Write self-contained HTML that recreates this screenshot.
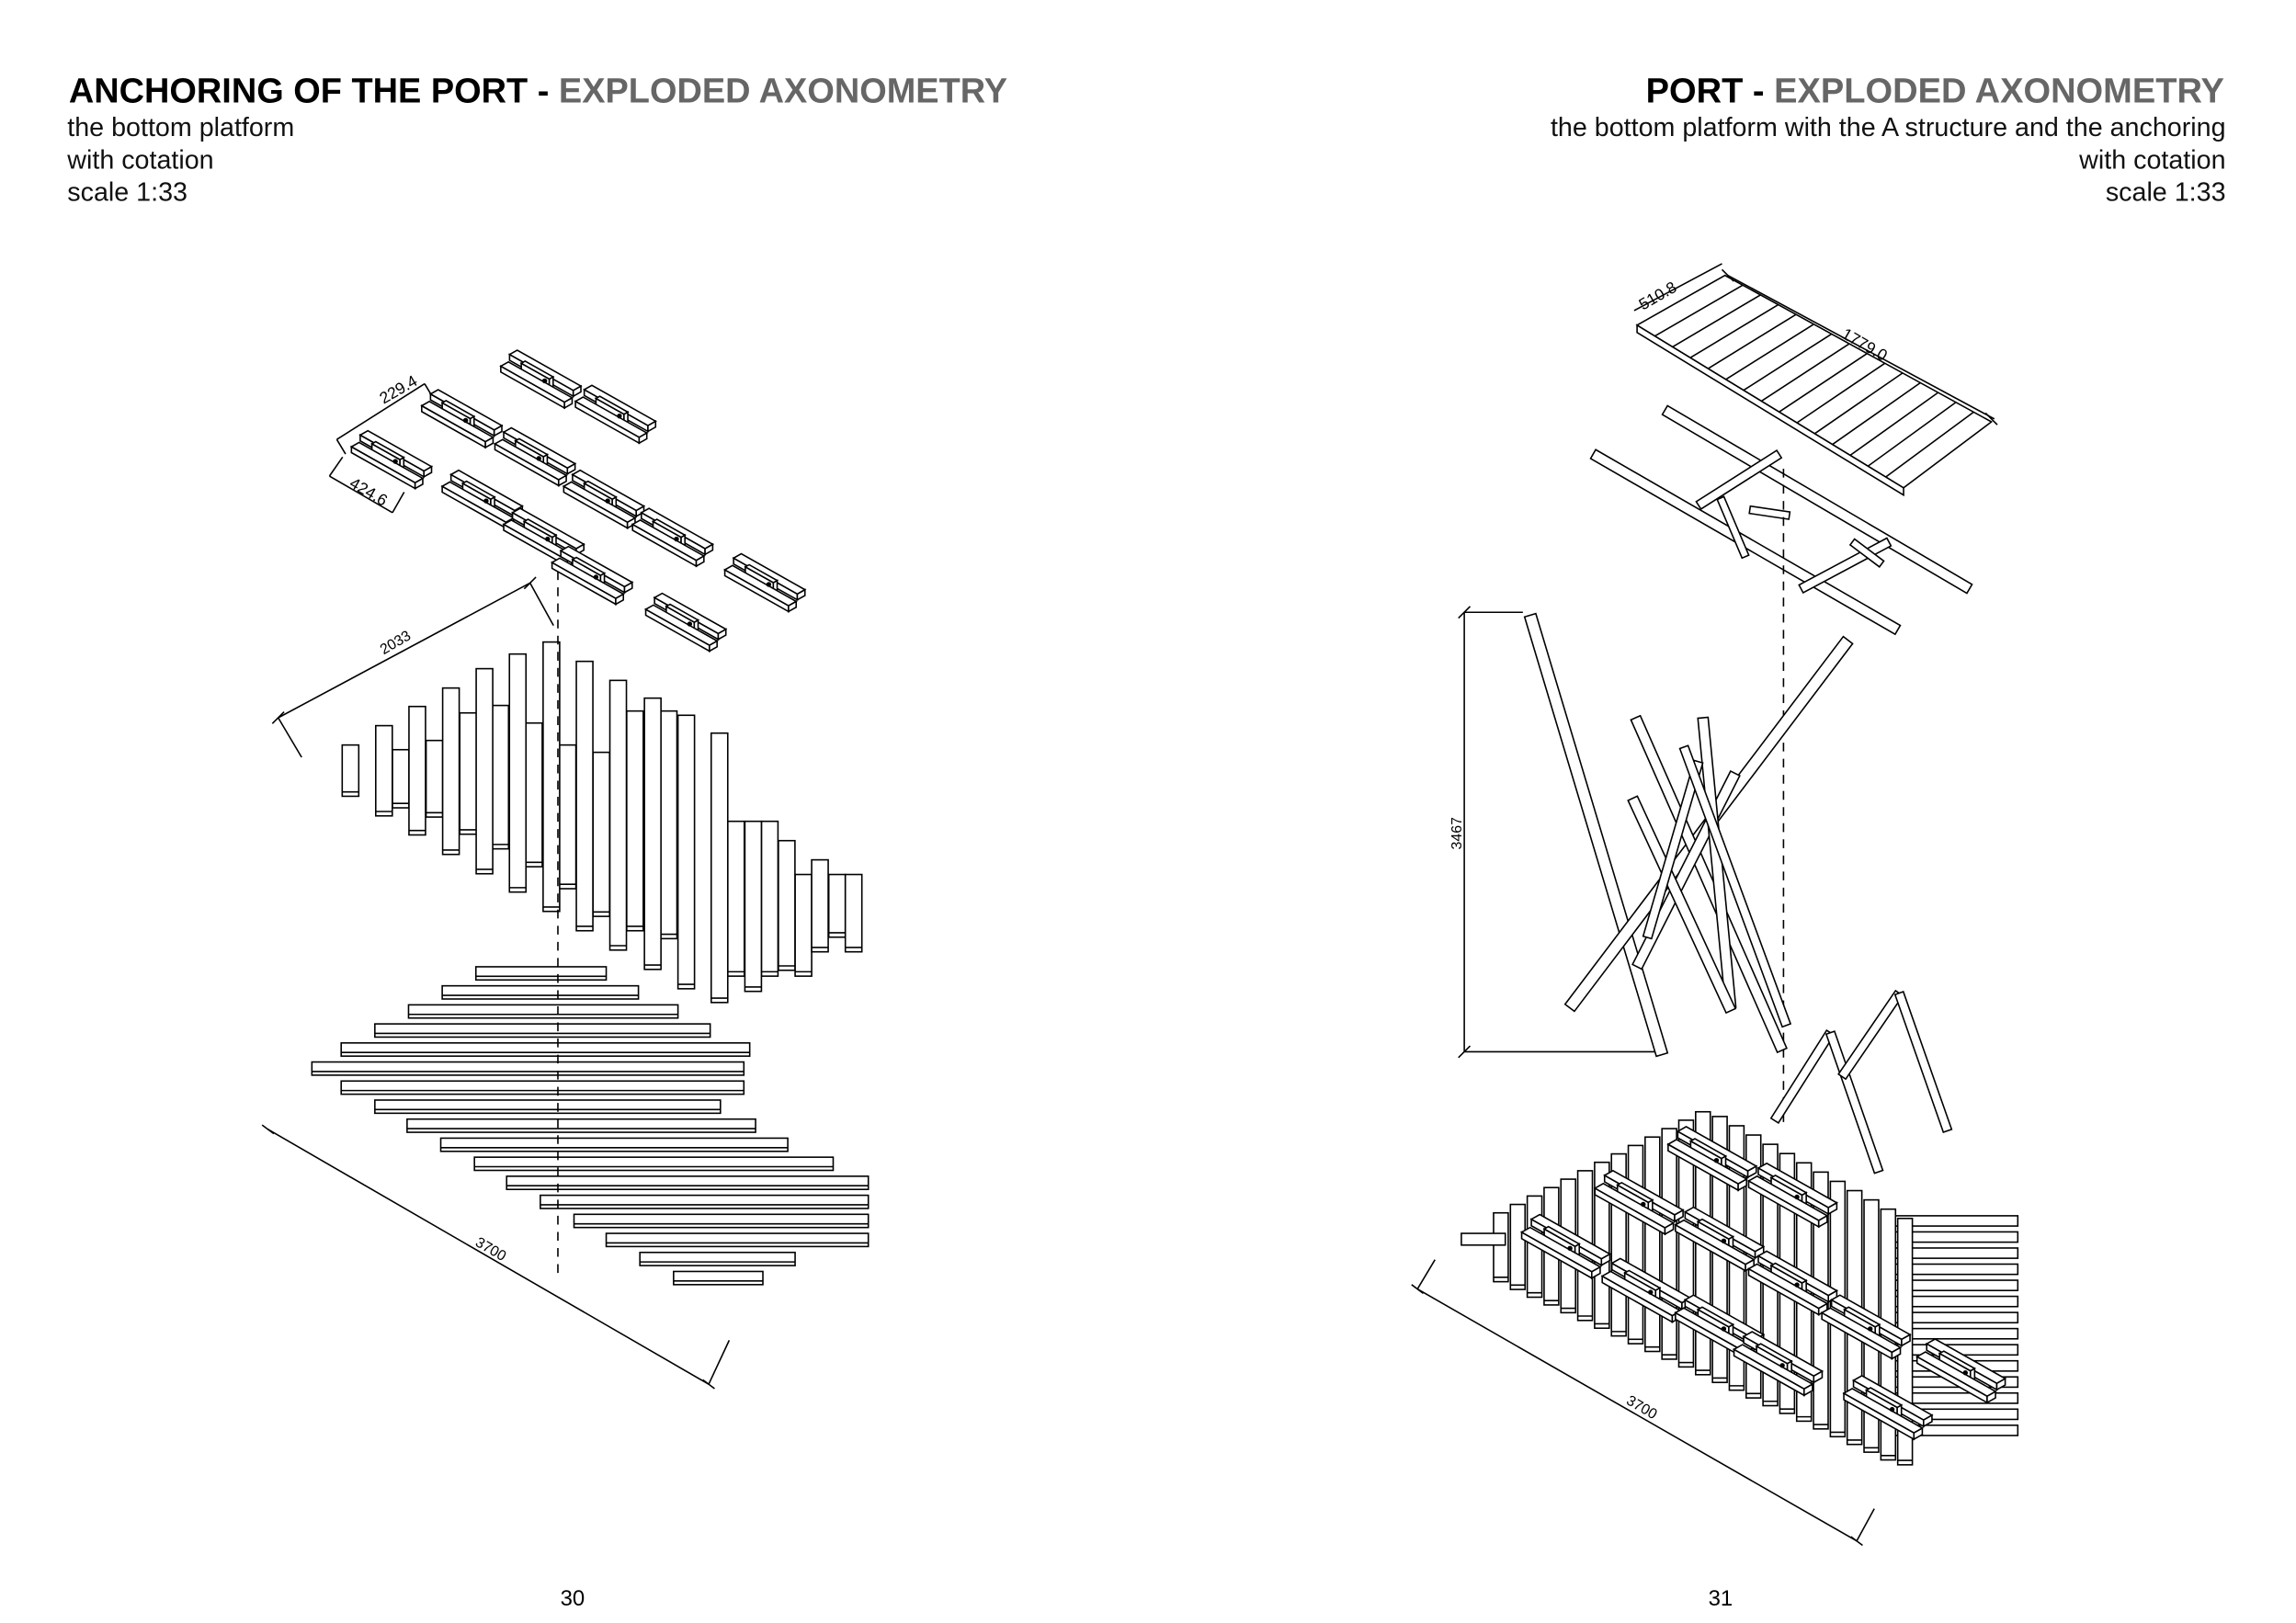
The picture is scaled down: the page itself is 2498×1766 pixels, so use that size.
<!DOCTYPE html>
<html><head><meta charset="utf-8"><style>
html,body{margin:0;padding:0;background:#fff;}
svg{display:block;}
text{font-family:"Liberation Sans",Arial,sans-serif;}
</style></head><body>
<svg id="s" width="2498" height="1766" viewBox="0 0 1568 1108" preserveAspectRatio="none" xmlns="http://www.w3.org/2000/svg">
<rect width="1568" height="1108" fill="#fff"/>
<text x="47" y="70" font-size="24" font-weight="bold" textLength="641" lengthAdjust="spacingAndGlyphs"><tspan fill="#000">ANCHORING OF THE PORT - </tspan><tspan fill="#666">EXPLODED AXONOMETRY</tspan></text>
<text x="46" y="93" font-size="18" fill="#111">the bottom platform</text>
<text x="46" y="115" font-size="18" fill="#111">with cotation</text>
<text x="46" y="137" font-size="18" fill="#111">scale 1:33</text>
<text x="1519" y="70" font-size="24" font-weight="bold" text-anchor="end" textLength="395" lengthAdjust="spacingAndGlyphs"><tspan fill="#000">PORT - </tspan><tspan fill="#666">EXPLODED AXONOMETRY</tspan></text>
<text x="1520" y="93" font-size="18" fill="#111" text-anchor="end">the bottom platform with the A structure and the anchoring</text>
<text x="1520" y="115" font-size="18" fill="#111" text-anchor="end">with cotation</text>
<text x="1520" y="137" font-size="18" fill="#111" text-anchor="end">scale 1:33</text>
<text x="391" y="1096" font-size="15" text-anchor="middle">30</text>
<text x="1175" y="1096" font-size="15" text-anchor="middle">31</text>
<g font-family="Liberation Mono,monospace" font-size="11" fill="#000">
<text transform="translate(262,276) rotate(-30)">229.4</text>
<text transform="translate(238,332) rotate(30)">424.6</text>
<text transform="translate(262,447) rotate(-30)" font-family="Liberation Sans,sans-serif" font-size="10">2033</text>
<text transform="translate(324,850) rotate(30)" font-family="Liberation Sans,sans-serif" font-size="10">3700</text>
<text transform="translate(1122,212) rotate(-30)">510.8</text>
<text transform="translate(1257,230) rotate(30)">1779.0</text>
<text transform="translate(998,580) rotate(-90)" font-family="Liberation Sans,sans-serif" font-size="10">3467</text>
<text transform="translate(1110,958) rotate(30)" font-family="Liberation Sans,sans-serif" font-size="10">3700</text>
</g>
<g id="g" fill="#fff" stroke="#000" stroke-width="1"></g>
</svg>
<script>
(function(){
var g=document.getElementById('g'),NS='http://www.w3.org/2000/svg';
function el(t,a){var e=document.createElementNS(NS,t);for(var k in a)e.setAttribute(k,a[k]);g.appendChild(e);return e;}
function R(x,y,w,h){el('rect',{x:x,y:y,width:w,height:h});}
function L(x1,y1,x2,y2,d){var a={x1:x1,y1:y1,x2:x2,y2:y2,fill:'none'};if(d)a['stroke-dasharray']=d;el('line',a);}
function P(pts){el('polygon',{points:pts.map(function(p){return p[0]+','+p[1]}).join(' ')});}
function bar(x1,y1,x2,y2,w){var dx=x2-x1,dy=y2-y1,l=Math.hypot(dx,dy),nx=-dy/l*w/2,ny=dx/l*w/2;P([[x1+nx,y1+ny],[x2+nx,y2+ny],[x2-nx,y2-ny],[x1-nx,y1-ny]]);}
var u=[0.87,0.49],w=[0.87,-0.49];
function box(x,y,Ln,W,H){var p0=[x,y],p1=[x+Ln*u[0],y+Ln*u[1]],p2=[p1[0]+W*w[0],p1[1]+W*w[1]],p3=[x+W*w[0],y+W*w[1]];
P([p0,p1,[p1[0],p1[1]+H],[p0[0],p0[1]+H]]);P([p1,p2,[p2[0],p2[1]+H],[p1[0],p1[1]+H]]);P([p0,p1,p2,p3]);}
function bench(cx,cy,s){s=s||1;var x=cx-28*s,y=cy-12*s;box(x+6*s,y-4*s,50*s,6*s,4*s);box(x+14*s,y+2*s,22*s,3*s,9*s);box(x,y+4*s,50*s,6*s,4*s);el('circle',{cx:x+30*s,cy:y+14*s,r:1.2,fill:'#000'});}
var back=[[268,511.8,551.5],[291,505.5,557.8],[314,486.7,569.5],[336,481.6,579.5],[359,493.6,591.7],[382,508.6,606.7],[405,513.6,625.6],[428,485.4,635.4],[451,485.4,640.8],[497,560.7,666.4],[520,560.7,666.4],[543,597,666.4],[566,597,639.8]];
back.forEach(function(b){R(b[0],b[1],11.3,b[2]-b[1]);L(b[0],b[2]-3,b[0]+11.3,b[2]-3);});
var front=[[233.7,508.6,543.6],[256.6,495.4,557],[279.3,482.3,570],[302.3,469.7,583.3],[325.2,456.5,596.5],[347.9,446.5,609],[370.9,438.3,622.2],[393.6,451.5,635.4],[416.5,464.5,648.6],[440.1,476.6,661.8],[463,488.3,675],[485.7,500.5,684.4],[508.7,560.7,676.8],[531.6,573.9,662.4],[554.3,587,649.8],[577.3,597,649.8]];
front.forEach(function(b){R(b[0],b[1],11.3,b[2]-b[1]);L(b[0],b[2]-3,b[0]+11.3,b[2]-3);});
var hb=[[325,414,660],[302,436,673],[279,463,686],[256,485,699],[233,512,712],[213,508,725],[233,508,738],[256,492,751],[278,516,764],[301,538,777],[324,569,790],[346,593,803],[369,593,816],[392,593,829],[414,593,842],[437,543,855],[460,521,868]];
hb.forEach(function(b){R(b[0],b[2],b[1]-b[0],9);L(b[0],b[2]+6.5,b[1],b[2]+6.5);});
L(381,390,381,870,'6,5');
L(190,490,362,398);L(190,490,206,517);L(362,398,378,427);L(186,494,194,486);L(358,402,366,394);
L(183,771,484,945);L(179,768,187,774);L(480,942,488,948);L(484,945,498,915);
L(230,300,290,262);L(230,300,236,310);L(290,262,296,272);
L(225,325,268,350);L(268,350,276,336);L(225,325,234,312);
[[370,258],[421,282],[316,285],[366,311],[268,313],[413,340],[330,340],[460,366],[372,366],[405,392],[523,397],[469,424]].forEach(function(c){bench(c[0],c[1],1);});
var A=[1118,222],B=[1178,188],C=[1360,288],D=[1300,333];
P([[A[0],A[1]],[D[0],D[1]],[D[0],D[1]+5],[A[0],A[1]+5]]);P([A,B,C,D]);
for(var i=1;i<15;i++){var t=i/15;L(A[0]+(D[0]-A[0])*t,A[1]+(D[1]-A[1])*t,B[0]+(C[0]-B[0])*t,B[1]+(C[1]-B[1])*t);}
L(1116,212,1176,180);L(1180,188,1362,286);L(1176,184,1184,192);L(1356,282,1364,290);
bar(1088,310,1296,430,7);bar(1137,280,1345,402,7);bar(1160,345,1215,310,6);bar(1230,402,1290,370,6);
bar(1175,340,1192,380,5);bar(1265,370,1285,385,5);bar(1195,348,1222,352,5);
L(1218,320,1218,770,'6,5');
bar(1045,420,1135,720,8);bar(1262,437,1072,688,8);bar(1117,490,1217,717,7);bar(1185,528,1118,660,7);
bar(1163,490,1182,688,7);bar(1115,545,1182,690,7);bar(1160,520,1125,640,6);bar(1150,510,1220,700,6);
L(1000,418,1000,718);L(1000,418,1040,418);L(1000,718,1130,718);L(996,422,1004,414);L(996,722,1004,714);
bar(1212,765,1250,705,6);bar(1250,705,1283,800,6);bar(1258,735,1297,678,6);bar(1297,678,1330,772,6);
for(var y=830;y<975;y+=11){R(1290,y,88,7);}
for(var xx=1020;xx<1300;xx+=11.5){var tp=xx<1160?828-(xx-1020)*0.5:757+(xx-1160)*0.55;var bt=xx<1290?875+(xx-1020)*0.46:1000;if(tp>bt-15)tp=bt-15;R(xx,tp,10,bt-tp);L(xx,bt-3,xx+10,bt-3);}
R(998,842,30,8);
[[1170,790],[1225,815],[1120,820],[1175,845],[1070,850],[1225,875],[1125,880],[1275,905],[1175,905],[1215,930],[1340,935],[1290,960]].forEach(function(c){bench(c[0],c[1],1.1);});
L(968,880,1268,1052);L(964,877,972,883);L(1264,1049,1272,1055);L(1268,1052,1280,1030);L(968,880,980,860);
})();
</script>
</body></html>
